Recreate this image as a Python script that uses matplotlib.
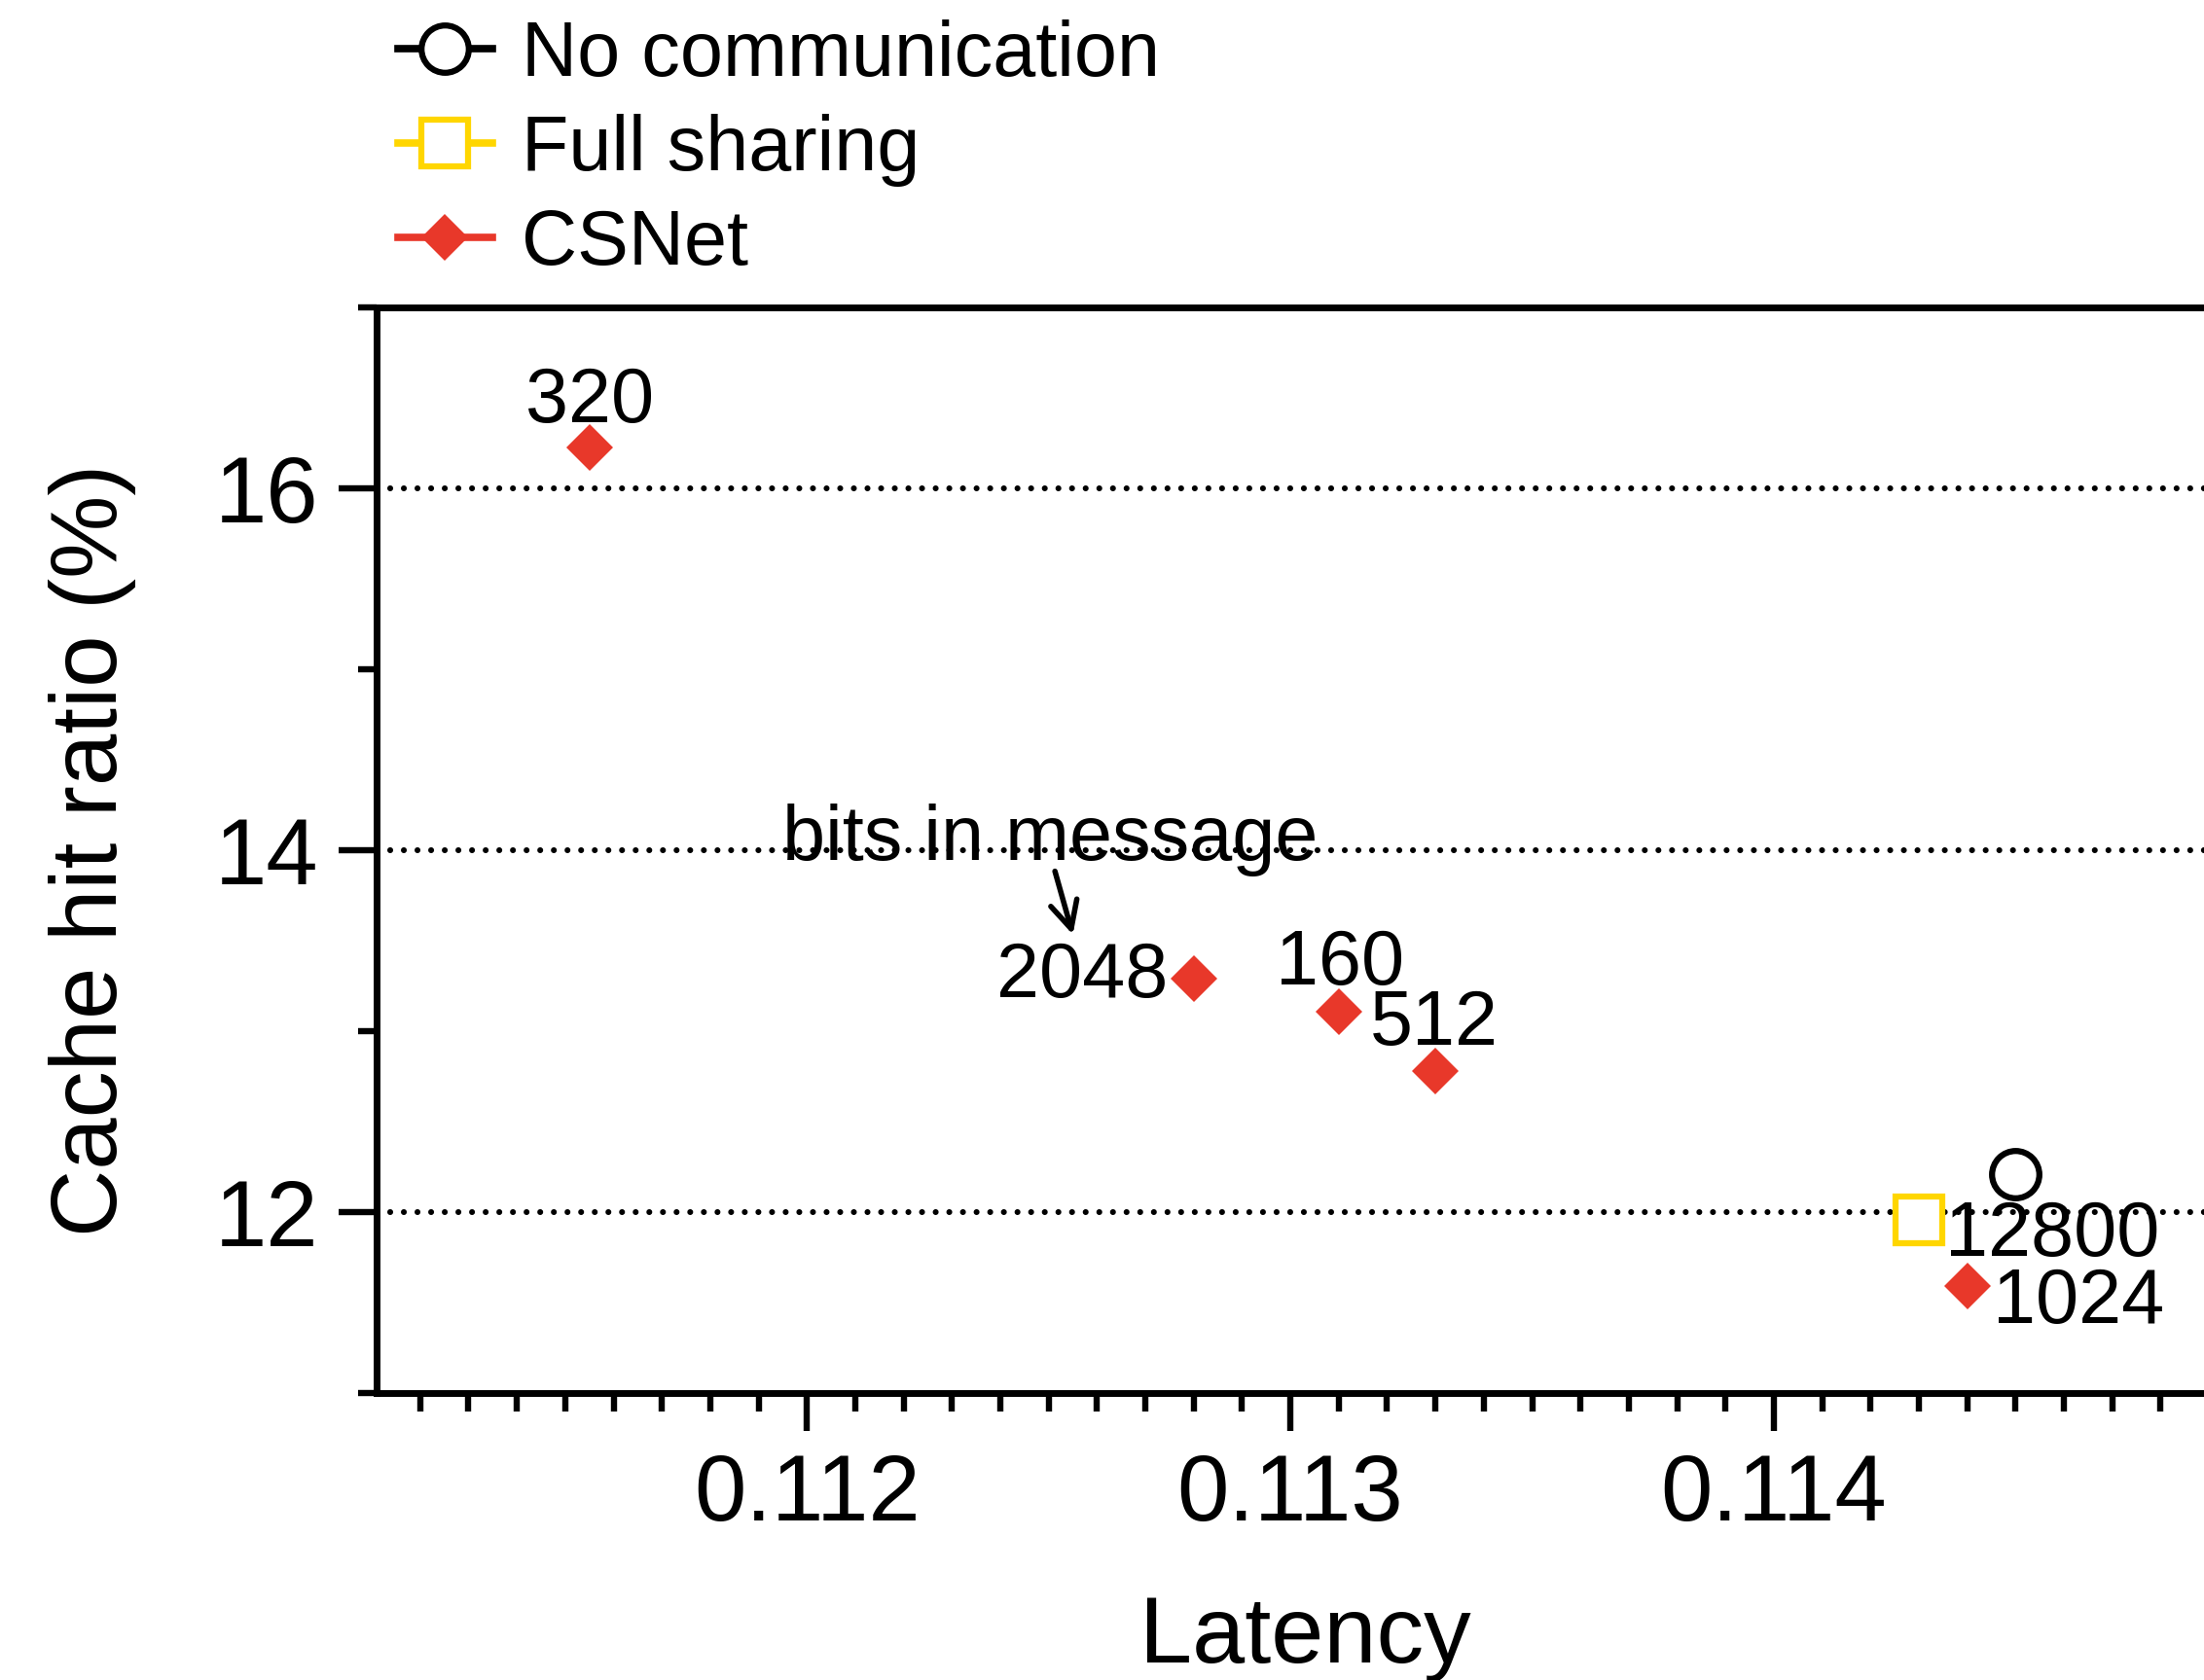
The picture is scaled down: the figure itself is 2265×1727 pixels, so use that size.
import matplotlib.pyplot as plt
from matplotlib.lines import Line2D
from matplotlib.ticker import MultipleLocator, FormatStrFormatter

plt.rcParams['font.family'] = ['Liberation Sans', 'DejaVu Sans']
plt.rcParams['lines.scale_dashes'] = False

# values
csnet_bits = ['320', '2048', '160', '512', '1024']
csnet_latency = [0.11155, 0.11280, 0.11310, 0.11330, 0.11440]
csnet_hit = [16.225, 13.29, 13.11, 12.78, 11.59]

full_bits = ['12800']
full_latency = [0.11430]
full_hit = [11.955]

nocomm_latency = [0.11450]
nocomm_hit = [12.21]

series_names = ['No communication', 'Full sharing', 'CSNet']
x_ticks = [0.112, 0.113, 0.114]
y_ticks = [12, 14, 16]

RED = '#E8382A'
GOLD = '#FFD600'

# label placement (offset points from the marker, alignment)
csnet_offsets = [(0, 19, 'center'), (-19, -13.7, 'right'), (1, 19.5, 'center'),
                 (-1, 19.5, 'center'), (18.7, -27, 'left')]
full_offsets = [(19.4, -26.4, 'left')]

fig = plt.figure(figsize=(22.65, 17.27), dpi=100)
ax = fig.add_axes([0.1709, 0.1708, 0.8423, 0.6462])

ax.plot(nocomm_latency, nocomm_hit, ls='none', marker='o', ms=35,
        mfc='white', mec='black', mew=4.5, zorder=3)
ax.plot(full_latency, full_hit, ls='none', marker='s', ms=35,
        mfc='white', mec=GOLD, mew=4.5, zorder=3)
ax.plot(csnet_latency, csnet_hit, ls='none', marker='D', ms=24.6,
        mfc=RED, mec=RED, mew=0, zorder=3)

for lab, x, y, (dx, dy, ha) in zip(csnet_bits, csnet_latency, csnet_hit, csnet_offsets):
    ax.annotate(lab, xy=(x, y), xytext=(dx, dy), textcoords='offset points',
                ha=ha, va='baseline', fontsize=57)
for lab, x, y, (dx, dy, ha) in zip(full_bits, full_latency, full_hit, full_offsets):
    ax.annotate(lab, xy=(x, y), xytext=(dx, dy), textcoords='offset points',
                ha=ha, va='baseline', fontsize=57)

ax.text(0.11195, 13.949, 'bits in message', fontsize=57, ha='left', va='baseline')
ax.annotate('', xy=(0.11255, 13.534), xytext=(0.112513, 13.884),
            arrowprops=dict(arrowstyle='->,head_length=0.5,head_width=0.25',
                            lw=4, color='black', shrinkA=0, shrinkB=0,
                            mutation_scale=40))

ax.set_xlim(0.11111, 0.11495)
ax.set_ylim(11, 17)
ax.set_xticks(x_ticks)
ax.set_yticks(y_ticks)
ax.xaxis.set_minor_locator(MultipleLocator(0.0001))
ax.yaxis.set_minor_locator(MultipleLocator(1))
ax.xaxis.set_major_formatter(FormatStrFormatter('%.3f'))

ax.tick_params(which='major', length=28, width=4.6, labelsize=69)
ax.tick_params(axis='x', which='major', pad=16)
ax.tick_params(axis='y', which='major', pad=15)
ax.tick_params(which='minor', length=14, width=4.6)
for s in ax.spines.values():
    s.set_linewidth(5)

ax.grid(axis='y', which='major', color='black', lw=4.4,
        linestyle=(0, (0.01, 10.08)), dash_capstyle='round')

ax.set_xlabel('Latency', fontsize=70, labelpad=40)
ax.set_ylabel('Cache hit ratio (%)', fontsize=69, labelpad=58)

handles = [
    Line2D([], [], color='black', lw=5.5, marker='o', ms=35, mfc='white', mec='black', mew=4.5),
    Line2D([], [], color=GOLD, lw=5.5, marker='s', ms=35, mfc='white', mec=GOLD, mew=4.5),
    Line2D([], [], color=RED, lw=5.5, marker='D', ms=24.6, mfc=RED, mec=RED, mew=0),
]
fig.legend(handles, series_names, loc='upper left', bbox_to_anchor=(0.1804, 0.9885),
           frameon=False, fontsize=57, handlelength=1.225, handletextpad=0.39,
           labelspacing=0.28, borderpad=0, borderaxespad=0)

fig.savefig('out.png', dpi=100)
